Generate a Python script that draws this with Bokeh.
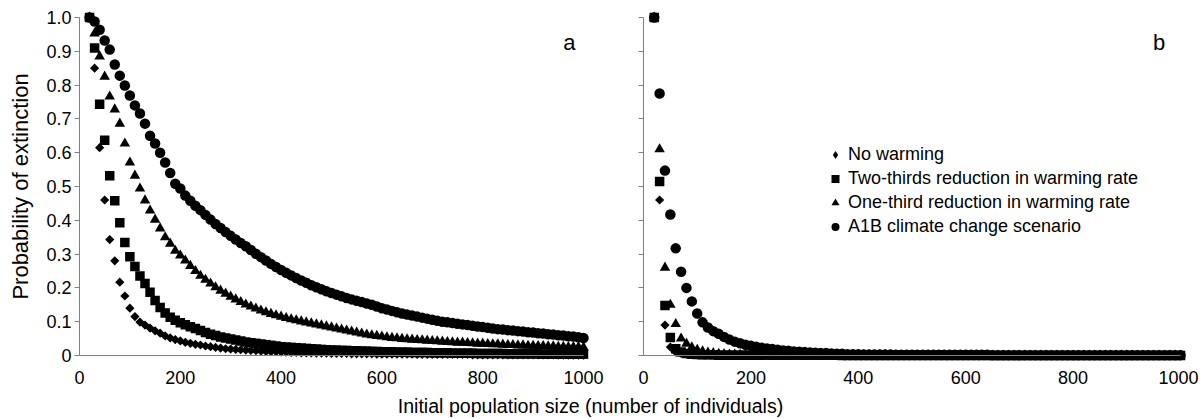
import math
from bokeh.plotting import figure
from bokeh.layouts import column, row
from bokeh.models import Range1d, Legend, LegendItem, Label, FixedTicker
from bokeh.embed import file_html
from bokeh.resources import INLINE

FONT = "Liberation Sans"

# ---------------- data ----------------
pop_size = list(range(20, 1001, 10))

a_no_warming = [
    1.0, 0.85, 0.615, 0.46, 0.343, 0.28, 0.217, 0.176, 0.14, 0.115,
    0.099, 0.09, 0.081, 0.073, 0.066, 0.058, 0.052, 0.047, 0.043, 0.039,
    0.036, 0.033, 0.031, 0.028, 0.026, 0.024, 0.022, 0.020, 0.019, 0.018,
    0.017, 0.016, 0.015, 0.014, 0.013, 0.012, 0.011, 0.011, 0.010, 0.010,
    0.009, 0.009, 0.008, 0.008, 0.008, 0.007, 0.007, 0.007, 0.006, 0.006,
    0.006, 0.006, 0.005, 0.005, 0.005, 0.005, 0.005, 0.004, 0.004, 0.004,
    0.004, 0.004, 0.004, 0.004, 0.004, 0.003, 0.003, 0.003, 0.003, 0.003,
    0.003, 0.003, 0.003, 0.003, 0.003, 0.003, 0.002, 0.002, 0.002, 0.002,
    0.002, 0.002, 0.002, 0.002, 0.002, 0.002, 0.002, 0.002, 0.002, 0.002,
    0.002, 0.002, 0.002, 0.001, 0.001, 0.001, 0.001, 0.001, 0.001,
]
a_two_thirds = [
    1.0, 0.91, 0.743, 0.637, 0.532, 0.458, 0.393, 0.334, 0.292, 0.263,
    0.235, 0.213, 0.187, 0.163, 0.142, 0.126, 0.113, 0.104, 0.097, 0.091,
    0.085, 0.080, 0.074, 0.068, 0.063, 0.059, 0.055, 0.052, 0.049, 0.046,
    0.043, 0.040, 0.038, 0.036, 0.034, 0.032, 0.030, 0.028, 0.026, 0.025,
    0.024, 0.023, 0.022, 0.021, 0.020, 0.019, 0.018, 0.017, 0.016, 0.016,
    0.015, 0.015, 0.014, 0.014, 0.013, 0.013, 0.012, 0.012, 0.011, 0.011,
    0.011, 0.010, 0.010, 0.010, 0.009, 0.009, 0.009, 0.009, 0.008, 0.008,
    0.008, 0.008, 0.007, 0.007, 0.007, 0.007, 0.007, 0.006, 0.006, 0.006,
    0.006, 0.006, 0.006, 0.005, 0.005, 0.005, 0.005, 0.005, 0.005, 0.005,
    0.004, 0.004, 0.004, 0.004, 0.004, 0.004, 0.004, 0.004, 0.004,
]
a_one_third = [
    1.0, 0.953, 0.885, 0.825, 0.766, 0.728, 0.686, 0.627, 0.571, 0.532,
    0.494, 0.459, 0.429, 0.402, 0.376, 0.350, 0.331, 0.310, 0.296, 0.281,
    0.265, 0.250, 0.236, 0.224, 0.213, 0.202, 0.192, 0.183, 0.174, 0.166,
    0.158, 0.151, 0.145, 0.139, 0.133, 0.128, 0.123, 0.119, 0.115, 0.111,
    0.107, 0.104, 0.101, 0.098, 0.095, 0.092, 0.089, 0.086, 0.083, 0.080,
    0.077, 0.074, 0.071, 0.068, 0.065, 0.062, 0.060, 0.058, 0.056, 0.054,
    0.052, 0.051, 0.049, 0.048, 0.047, 0.046, 0.045, 0.044, 0.043, 0.042,
    0.041, 0.040, 0.039, 0.038, 0.038, 0.037, 0.036, 0.035, 0.035, 0.034,
    0.033, 0.033, 0.032, 0.031, 0.031, 0.030, 0.030, 0.029, 0.029, 0.028,
    0.028, 0.027, 0.027, 0.026, 0.026, 0.025, 0.025, 0.025, 0.024,
]
a_a1b = [
    1.0, 0.988, 0.964, 0.932, 0.905, 0.861, 0.828, 0.799, 0.769, 0.740,
    0.716, 0.686, 0.650, 0.627, 0.600, 0.571, 0.540, 0.508, 0.494, 0.473,
    0.458, 0.443, 0.430, 0.416, 0.402, 0.389, 0.377, 0.365, 0.354, 0.343,
    0.333, 0.323, 0.312, 0.301, 0.291, 0.281, 0.271, 0.262, 0.253, 0.245,
    0.237, 0.229, 0.222, 0.215, 0.208, 0.202, 0.196, 0.190, 0.185, 0.180,
    0.175, 0.170, 0.166, 0.162, 0.158, 0.154, 0.150, 0.145, 0.140, 0.136,
    0.132, 0.128, 0.124, 0.121, 0.118, 0.115, 0.112, 0.109, 0.106, 0.103,
    0.100, 0.098, 0.096, 0.094, 0.092, 0.090, 0.088, 0.086, 0.084, 0.082,
    0.080, 0.078, 0.077, 0.075, 0.074, 0.072, 0.071, 0.069, 0.068, 0.066,
    0.065, 0.063, 0.062, 0.060, 0.059, 0.057, 0.056, 0.054, 0.052,
]

b_no_warming = [
    1.0, 0.46, 0.09, 0.025, 0.010, 0.006, 0.004, 0.003, 0.002, 0.002,
    0.002, 0.001, 0.001, 0.001, 0.001, 0.001, 0.001, 0.001, 0.001, 0.001,
    0.001, 0.001, 0.001, 0.001, 0.001, 0.001, 0.001, 0.001, 0.001, 0.001,
    0.001, 0.001, 0.001, 0.001, 0.001, 0.0, 0.0, 0.0, 0.0, 0.0,
    0.0, 0.0, 0.0, 0.0, 0.0, 0.0, 0.0, 0.0, 0.0, 0.0,
    0.0, 0.0, 0.0, 0.0, 0.0, 0.0, 0.0, 0.0, 0.0, 0.0,
    0.0, 0.0, 0.0, 0.0, 0.0, 0.0, 0.0, 0.0, 0.0, 0.0,
    0.0, 0.0, 0.0, 0.0, 0.0, 0.0, 0.0, 0.0, 0.0, 0.0,
    0.0, 0.0, 0.0, 0.0, 0.0, 0.0, 0.0, 0.0, 0.0, 0.0,
    0.0, 0.0, 0.0, 0.0, 0.0, 0.0, 0.0, 0.0, 0.0,
]
b_two_thirds = [
    1.0, 0.515, 0.148, 0.053, 0.020, 0.010, 0.006, 0.004, 0.003, 0.002,
    0.002, 0.002, 0.001, 0.001, 0.001, 0.001, 0.001, 0.001, 0.001, 0.001,
    0.001, 0.001, 0.001, 0.001, 0.001, 0.001, 0.001, 0.001, 0.001, 0.001,
    0.001, 0.001, 0.001, 0.001, 0.001, 0.0, 0.0, 0.0, 0.0, 0.0,
    0.0, 0.0, 0.0, 0.0, 0.0, 0.0, 0.0, 0.0, 0.0, 0.0,
    0.0, 0.0, 0.0, 0.0, 0.0, 0.0, 0.0, 0.0, 0.0, 0.0,
    0.0, 0.0, 0.0, 0.0, 0.0, 0.0, 0.0, 0.0, 0.0, 0.0,
    0.0, 0.0, 0.0, 0.0, 0.0, 0.0, 0.0, 0.0, 0.0, 0.0,
    0.0, 0.0, 0.0, 0.0, 0.0, 0.0, 0.0, 0.0, 0.0, 0.0,
    0.0, 0.0, 0.0, 0.0, 0.0, 0.0, 0.0, 0.0, 0.0,
]
b_one_third = [
    1.0, 0.61, 0.26, 0.15, 0.093, 0.050, 0.035, 0.024, 0.017, 0.012,
    0.009, 0.007, 0.005, 0.004, 0.003, 0.003, 0.002, 0.002, 0.002, 0.002,
    0.002, 0.001, 0.001, 0.001, 0.001, 0.001, 0.001, 0.001, 0.001, 0.001,
    0.001, 0.001, 0.001, 0.001, 0.001, 0.001, 0.001, 0.001, 0.001, 0.001,
    0.001, 0.001, 0.001, 0.001, 0.001, 0.0, 0.0, 0.0, 0.0, 0.0,
    0.0, 0.0, 0.0, 0.0, 0.0, 0.0, 0.0, 0.0, 0.0, 0.0,
    0.0, 0.0, 0.0, 0.0, 0.0, 0.0, 0.0, 0.0, 0.0, 0.0,
    0.0, 0.0, 0.0, 0.0, 0.0, 0.0, 0.0, 0.0, 0.0, 0.0,
    0.0, 0.0, 0.0, 0.0, 0.0, 0.0, 0.0, 0.0, 0.0, 0.0,
    0.0, 0.0, 0.0, 0.0, 0.0, 0.0, 0.0, 0.0, 0.0,
]
b_a1b = [
    1.0, 0.775, 0.547, 0.417, 0.317, 0.248, 0.200, 0.160, 0.124, 0.098,
    0.083, 0.072, 0.064, 0.055, 0.047, 0.041, 0.036, 0.032, 0.029, 0.026,
    0.023, 0.021, 0.019, 0.017, 0.015, 0.014, 0.012, 0.011, 0.010, 0.009,
    0.008, 0.007, 0.007, 0.006, 0.005, 0.005, 0.004, 0.004, 0.004, 0.003,
    0.003, 0.003, 0.003, 0.003, 0.003, 0.002, 0.002, 0.002, 0.002, 0.002,
    0.002, 0.002, 0.002, 0.002, 0.002, 0.002, 0.002, 0.002, 0.002, 0.002,
    0.002, 0.002, 0.002, 0.001, 0.001, 0.001, 0.001, 0.001, 0.001, 0.001,
    0.001, 0.001, 0.001, 0.001, 0.001, 0.001, 0.001, 0.001, 0.001, 0.001,
    0.001, 0.001, 0.001, 0.001, 0.001, 0.001, 0.001, 0.001, 0.001, 0.001,
    0.001, 0.001, 0.001, 0.001, 0.001, 0.001, 0.001, 0.001, 0.001,
]

series_labels = [
    "No warming",
    "Two-thirds reduction in warming rate",
    "One-third reduction in warming rate",
    "A1B climate change scenario",
]
y_ticks = [0, 0.1, 0.2, 0.3, 0.4, 0.5, 0.6, 0.7, 0.8, 0.9, 1.0]
y_tick_labels = ["0", "0.1", "0.2", "0.3", "0.4", "0.5", "0.6", "0.7", "0.8", "0.9", "1.0"]
x_ticks = [0, 200, 400, 600, 800, 1000]
x_tick_labels = ["0", "200", "400", "600", "800", "1000"]
y_title = "Probability of extinction"
x_title = "Initial population size (number of individuals)"
panel_letters = ["a", "b"]

for s in (a_no_warming, a_two_thirds, a_one_third, a_a1b,
          b_no_warming, b_two_thirds, b_one_third, b_a1b):
    assert len(s) == len(pop_size), len(s)

# ---------------- styling ----------------
AXIS_COLOR = "#808080"
TICK_SIZE = "18px"
PANEL_H = 392
Y0, Y1 = -0.1095, 1.0503


def make_panel(width, x0, x1, show_labels):
    # frame fills the whole canvas; both axes are pinned at 0 so that the
    # axis lines sit on the data origin and the markers are never cut.
    p = figure(width=width, height=PANEL_H, x_range=Range1d(x0, x1), y_range=Range1d(Y0, Y1),
               output_backend="svg", toolbar_location=None, min_border=0)
    p.outline_line_color = None
    p.grid.visible = False

    xa = p.xaxis[0]
    xa.fixed_location = 0
    xa.bounds = (0, 1000)
    xa.ticker = FixedTicker(ticks=x_ticks)
    xa.major_label_overrides = {t: l for t, l in zip(x_ticks, x_tick_labels)}
    xa.major_tick_out = 0
    xa.major_tick_in = 0
    xa.minor_tick_out = 0
    xa.minor_tick_in = 0
    xa.axis_line_color = AXIS_COLOR
    xa.major_label_standoff = 16
    xa.major_label_text_font = FONT
    xa.major_label_text_font_size = TICK_SIZE
    xa.major_label_text_color = "black"

    ya = p.yaxis[0]
    ya.fixed_location = 0
    ya.bounds = (0, 1)
    ya.ticker = FixedTicker(ticks=y_ticks)
    ya.major_tick_out = 5
    ya.major_tick_in = 0
    ya.minor_tick_out = 0
    ya.minor_tick_in = 0
    ya.axis_line_color = AXIS_COLOR
    ya.major_tick_line_color = AXIS_COLOR
    ya.major_label_standoff = 3
    ya.major_label_text_font = FONT
    ya.major_label_text_font_size = TICK_SIZE
    if show_labels:
        ya.major_label_overrides = {t: l for t, l in zip(y_ticks, y_tick_labels)}
        ya.major_label_text_color = "black"
        ya.axis_label = y_title
        ya.axis_label_text_font = FONT
        ya.axis_label_text_font_size = "22px"
        ya.axis_label_text_font_style = "normal"
        ya.axis_label_text_color = "black"
        ya.axis_label_standoff = 10
    else:
        ya.major_label_overrides = {t: "" for t in y_ticks}
        ya.major_label_text_color = None
    return p


def add_series(p, nw, tt, ot, a1):
    r_a1 = p.scatter(pop_size, a1, marker="circle", size=10.5, fill_color="black", line_color=None)
    r_ot = p.scatter(pop_size, ot, marker="triangle", size=10.5, fill_color="black", line_color=None)
    r_nw = p.scatter(pop_size, nw, marker="square", angle=math.pi / 4, size=6.5,
                     fill_color="black", line_color=None)
    r_tt = p.scatter(pop_size, tt, marker="square", size=9.5, fill_color="black", line_color=None)
    return [r_nw, r_tt, r_ot, r_a1]


# panel a: canvas x 0..610, data 0 at px 79, 0.504 px per unit
p1 = make_panel(610, -156.7, 1053.6, True)
add_series(p1, a_no_warming, a_two_thirds, a_one_third, a_a1b)
p1.add_layout(Label(x=972, y=0.926, text=panel_letters[0], text_align="center",
                    text_baseline="middle", text_font=FONT, text_font_size="22px",
                    text_color="black"))

# panel b: canvas x 610..1198, data 0 at px 643, 0.537 px per unit
p2 = make_panel(588, -61.45, 1033.5, False)
rs = add_series(p2, b_no_warming, b_two_thirds, b_one_third, b_a1b)
p2.add_layout(Label(x=960, y=0.926, text=panel_letters[1], text_align="center",
                    text_baseline="middle", text_font=FONT, text_font_size="22px",
                    text_color="black"))

# legend key for the diamond series (a rotated square is drawn upright in legends);
# its single point is NaN so nothing is drawn in the plot area
key_nw = p2.scatter(x=[float("nan")], y=[float("nan")], marker="diamond", size=10,
                    fill_color="black", line_color=None)
legend_renderers = [key_nw] + rs[1:]

legend = Legend(items=[LegendItem(label=lab, renderers=[r], index=0)
                       for lab, r in zip(series_labels, legend_renderers)],
                location=(215, 155), orientation="vertical",
                label_text_font=FONT, label_text_font_size="18px", label_text_color="black",
                glyph_width=20, glyph_height=21, label_height=21, label_standoff=3,
                spacing=3, padding=0, margin=0,
                border_line_color=None, background_fill_alpha=0)
p2.add_layout(legend, "center")

pt = figure(width=1198, height=27, x_range=Range1d(0, 1), y_range=Range1d(0, 1),
            output_backend="svg", toolbar_location=None, min_border=0)
pt.outline_line_color = None
pt.axis.visible = False
pt.grid.visible = False
pt.add_layout(Label(x=590, y=14, x_units="screen", y_units="screen", text=x_title,
                    text_align="center", text_baseline="middle", text_font=FONT,
                    text_font_size="19.6px", text_color="black"))

layout = column(row(p1, p2), pt)
open("out.html", "w").write(file_html(layout, INLINE))
